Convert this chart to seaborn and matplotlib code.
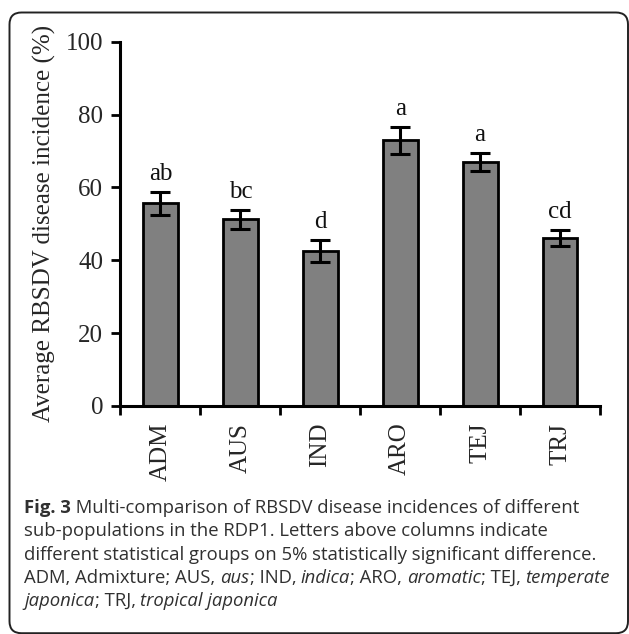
import matplotlib
matplotlib.use("Agg")
import matplotlib.pyplot as plt
import seaborn as sns
import numpy as np
import pandas as pd
from matplotlib.patches import FancyBboxPatch
from matplotlib.ticker import FixedLocator

# ---- data ----
categories = ["ADM", "AUS", "IND", "ARO", "TEJ", "TRJ"]
incidence = [55.6, 51.2, 42.5, 73.0, 66.9, 46.1]
errors = [3.1, 2.7, 3.0, 3.7, 2.5, 2.3]
group_letters = ["ab", "bc", "d", "a", "a", "cd"]
y_ticks = [0, 20, 40, 60, 80, 100]
y_label = "Average RBSDV disease incidence (%)"
caption_lines = [
    [("Fig. 3", "bold"), (" Multi-comparison of RBSDV disease incidences of different", "normal")],
    [("sub-populations in the RDP1. Letters above columns indicate", "normal")],
    [("different statistical groups on 5% statistically significant difference.", "normal")],
    [("ADM, Admixture; AUS, ", "normal"), ("aus", "italic"), ("; IND, ", "normal"),
     ("indica", "italic"), ("; ARO, ", "normal"), ("aromatic", "italic"),
     ("; TEJ, ", "normal"), ("temperate", "italic")],
    [("japonica", "italic"), ("; TRJ, ", "normal"), ("tropical japonica", "italic")],
]

sns.set_style("ticks")
plt.rcParams["font.family"] = ["Liberation Serif", "DejaVu Serif"]

W, H = 629, 634
fig = plt.figure(figsize=(W / 100, H / 100), dpi=100)
ax = fig.add_axes([120.5 / W, 1 - 406 / H, 479.5 / W, 364.3 / H])

df = pd.DataFrame({"cat": categories, "val": incidence})
sns.barplot(data=df, x="cat", y="val", color="#808080", saturation=1,
            edgecolor="black", linewidth=2.0, width=0.435, errorbar=None, ax=ax)
ax.errorbar(x=np.arange(len(categories)), y=incidence, yerr=errors, fmt="none",
            ecolor="black", elinewidth=2.2, capsize=7.5, capthick=2.2, zorder=5)

for i, (v, e, lab) in enumerate(zip(incidence, errors, group_letters)):
    ax.text(i, v + e + 3.3, lab, ha="center", va="baseline", fontsize=18, color="#111111")

ax.set_xlim(-0.5, len(categories) - 0.5)
ax.set_ylim(0, 100)
ax.set_yticks(y_ticks)
ax.set_yticklabels([str(t) for t in y_ticks], fontsize=18)
ax.set_xticks(range(len(categories)))
ax.set_xticklabels(categories, rotation=90, fontsize=18)
ax.xaxis.set_minor_locator(FixedLocator(np.arange(-0.5, len(categories), 1.0)))
ax.tick_params(axis="x", which="major", length=0, pad=12)
ax.tick_params(axis="x", which="minor", length=6.5, width=2.0, direction="out", color="black")
ax.tick_params(axis="y", which="major", length=6.5, width=2.0, pad=6, color="black")
ax.set_xlabel("")
ax.set_ylabel(y_label, fontsize=18)
ax.yaxis.set_label_coords(-0.135, 0.5)
for s in ["top", "right"]:
    ax.spines[s].set_visible(False)
for s in ["left", "bottom"]:
    ax.spines[s].set_linewidth(2.2)
    ax.spines[s].set_color("black")

# ---- border ----
border = FancyBboxPatch((9.5, 0.8), 618.5, 620.7,
                        boxstyle="round,pad=0,rounding_size=12",
                        transform=None, fill=False, edgecolor="#222222", linewidth=1.4)
fig.patches.append(border)

# ---- caption ----
renderer = fig.canvas.get_renderer()
cap_font = ["Open Sans", "DejaVu Sans"]
line_y = [508, 531.3, 554.6, 577.9, 601.2]
for runs, yy in zip(caption_lines, line_y):
    x = 24.5
    for txt, style in runs:
        kw = dict(fontsize=13.3, color="#303030", family=cap_font, va="center", ha="left")
        if style == "bold":
            kw["fontweight"] = "bold"
        elif style == "italic":
            kw["fontstyle"] = "italic"
        t = fig.text(x, H - yy, txt, transform=None, **kw)
        bb = t.get_window_extent(renderer)
        x = bb.x1

fig.savefig("out.png", dpi=100)
